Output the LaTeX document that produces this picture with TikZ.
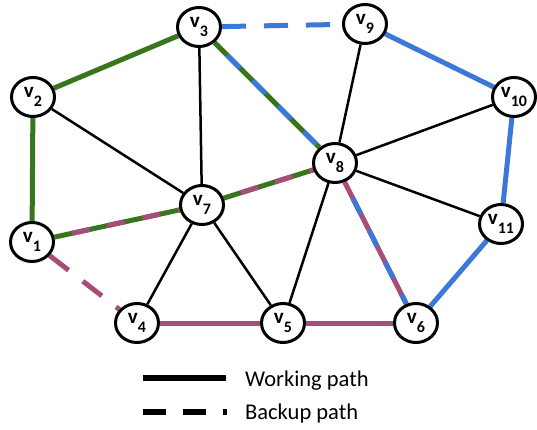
\documentclass[tikz,border=0pt]{standalone}
\usepackage{fontspec}
\setmainfont{Carlito}
\usetikzlibrary{shapes.geometric}
\definecolor{pgreen}{HTML}{38761D}
\definecolor{pblue}{HTML}{3C78D8}
\definecolor{pmag}{HTML}{A64D79}
\newcommand{\vl}[1]{\raisebox{-2pt}{{\fontsize{21}{21}\selectfont\bfseries v}\raisebox{-9pt}{\fontsize{16}{16}\selectfont\bfseries #1}}}
\tikzset{
  vnode/.style={ellipse,draw=black,line width=3pt,fill=white,minimum width=43pt,minimum height=39pt,inner sep=0pt},
  thin edge/.style={draw=black,line width=2.5pt},
  col edge/.style={line width=5pt},
  alt dash/.style={line width=5pt,dash pattern=on 18pt off 18pt,dash phase=18pt},
  bk dash/.style={line width=5pt,dash pattern=on 24pt off 18pt},
  legtext/.style={anchor=base west,inner sep=0pt,font=\fontsize{22.5}{22.5}\selectfont}
}
\begin{document}
\begin{tikzpicture}[x=1pt,y=-1pt]
\useasboundingbox (0,0) rectangle (537,430);
% node coordinates
\coordinate (c1) at (32,242);
\coordinate (c2) at (33,97);
\coordinate (c3) at (199,27);
\coordinate (c4) at (137,323);
\coordinate (c5) at (283,323);
\coordinate (c6) at (416,323);
\coordinate (c7) at (202,205);
\coordinate (c8) at (335,163);
\coordinate (c9) at (365,24);
\coordinate (c10) at (514,97);
\coordinate (c11) at (501,224);
% invisible nodes for clipping edges
\foreach \i in {1,...,11} {\node[vnode,draw=none,fill=none] (v\i) at (c\i) {};}
% black thin edges
\draw[thin edge] (v2) -- (v7);
\draw[thin edge] (v3) -- (v7);
\draw[thin edge] (v7) -- (v4);
\draw[thin edge] (v7) -- (v5);
\draw[thin edge] (v5) -- (v8);
\draw[thin edge] (v8) -- (v9);
\draw[thin edge] (v8) -- (v10);
\draw[thin edge] (v8) -- (v11);
% green working
\draw[col edge,pgreen] (v2) -- (v3);
\draw[col edge,pgreen] (v2) -- (v1);
% green/blue v3-v8
\draw[col edge,pgreen] (v3) -- (v8);
\draw[alt dash,pblue] (v3) -- (v8);
% green/magenta v1-v7, v7-v8
\draw[col edge,pgreen] (v1) -- (v7);
\draw[alt dash,pmag] (v1) -- (v7);
\draw[col edge,pgreen] (v7) -- (v8);
\draw[alt dash,pmag] (v7) -- (v8);
% magenta/blue v8-v6
\draw[col edge,pmag] (v8) -- (v6);
\draw[alt dash,pblue] (v8) -- (v6);
% blue
\draw[bk dash,pblue] (v3) -- (v9);
\draw[col edge,pblue] (v9) -- (v10);
\draw[col edge,pblue] (v10) -- (v11);
\draw[col edge,pblue] (v11) -- (v6);
% magenta
\draw[bk dash,pmag] (v1) -- (v4);
\draw[col edge,pmag] (v4) -- (v5);
\draw[col edge,pmag] (v5) -- (v6);
% visible nodes
\foreach \i in {1,...,11} {\node[vnode] (n\i) at (c\i) {\vl{\i}};}
% legend
\coordinate (ls1) at (143,378);
\coordinate (ls2) at (226,378);
\coordinate (lb1) at (143,412);
\coordinate (lb2) at (227,412);
\draw[black,line width=5.5pt] (ls1) -- (ls2);
\draw[black,line width=5.5pt,dash pattern=on 23pt off 17pt] (lb1) -- (lb2);
\node[legtext] (lw) at (245,386) {Working path};
\node[legtext] (lbk) at (245,419) {Backup path};
\end{tikzpicture}
\end{document}
